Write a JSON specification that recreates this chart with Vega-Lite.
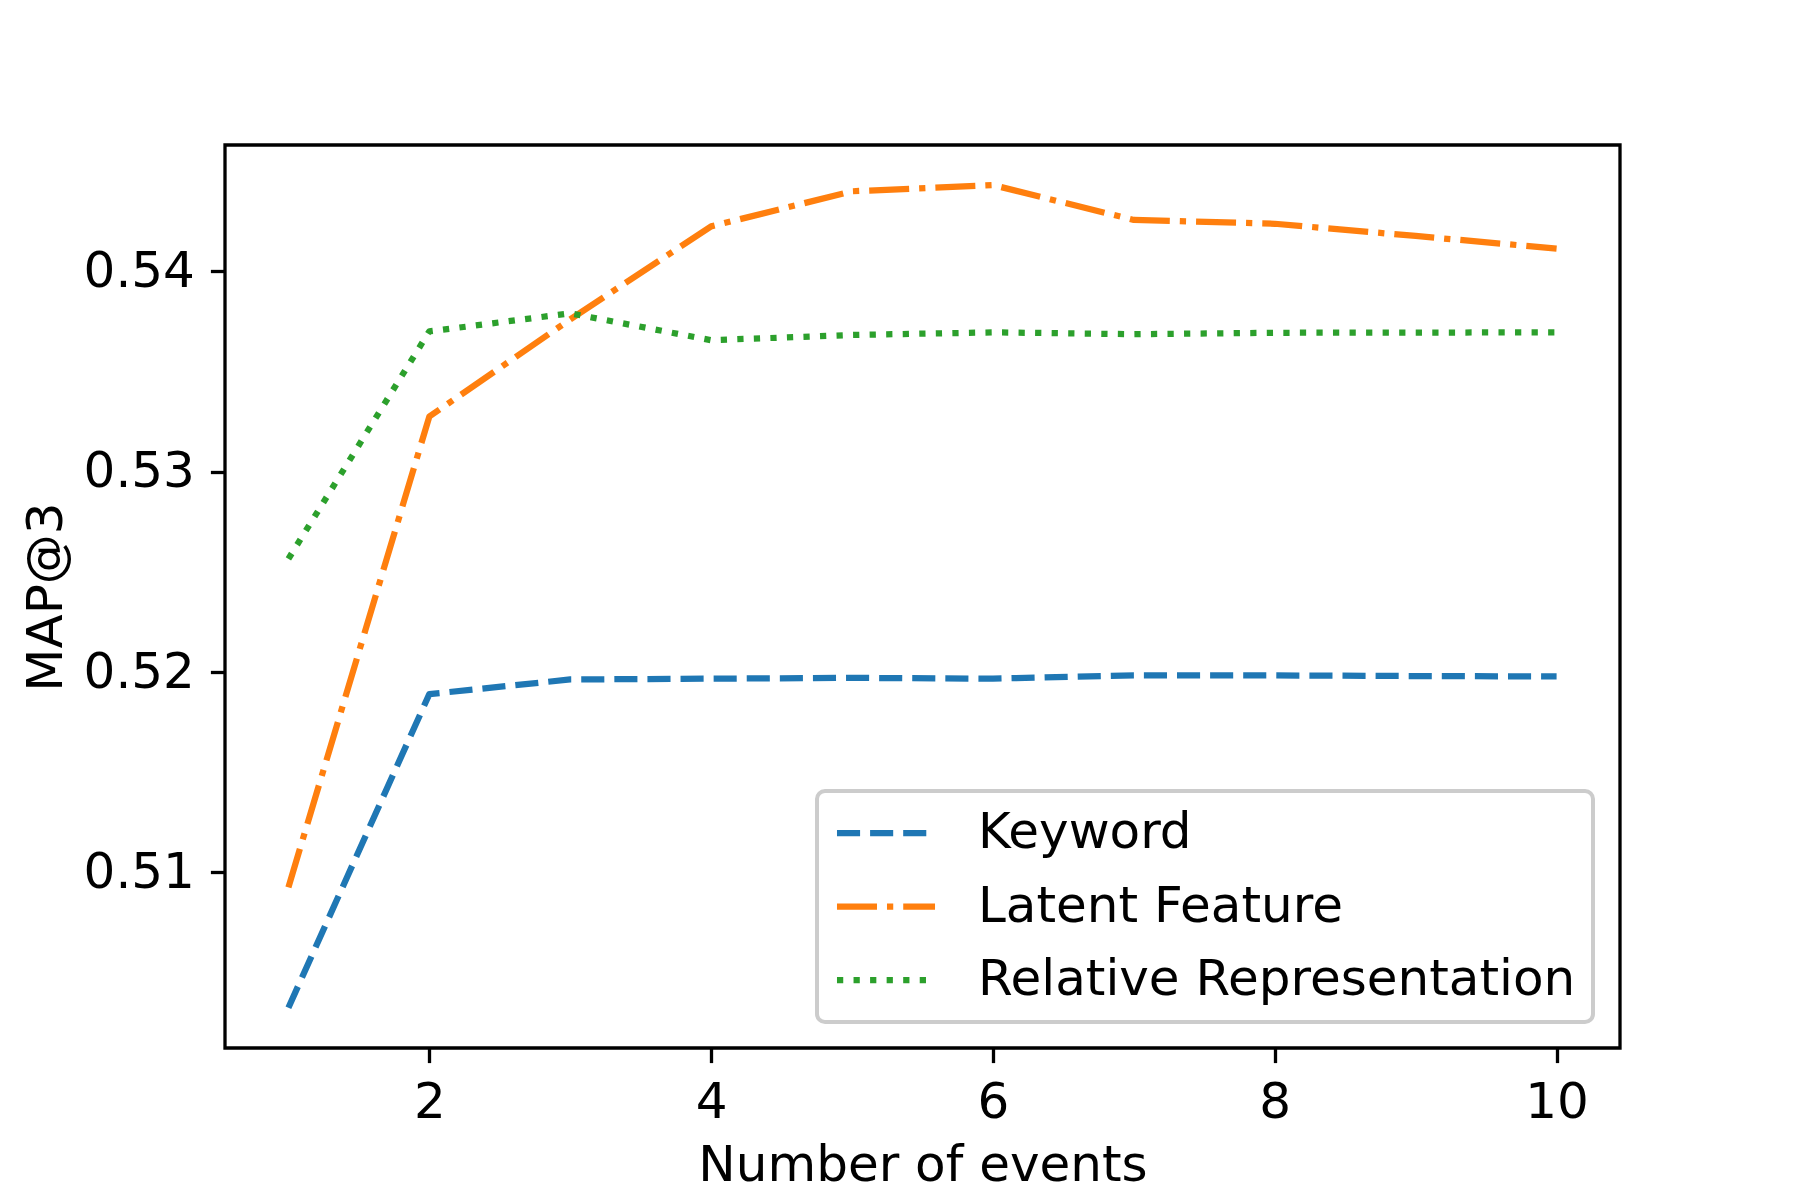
{
  "$schema": "https://vega.github.io/schema/vega-lite/v6.json",
  "width": 1395,
  "height": 903,
  "autosize": {"type": "none"},
  "padding": {"left": 225, "top": 145, "right": 180, "bottom": 152},
  "background": "white",
  "data": {
    "values": [
      {"events": 1, "method": "Keyword", "map": 0.50325},
      {"events": 2, "method": "Keyword", "map": 0.5189},
      {"events": 3, "method": "Keyword", "map": 0.51963},
      {"events": 4, "method": "Keyword", "map": 0.51967},
      {"events": 5, "method": "Keyword", "map": 0.51971},
      {"events": 6, "method": "Keyword", "map": 0.51967},
      {"events": 7, "method": "Keyword", "map": 0.51983},
      {"events": 8, "method": "Keyword", "map": 0.51983},
      {"events": 9, "method": "Keyword", "map": 0.5198},
      {"events": 10, "method": "Keyword", "map": 0.51978},
      {"events": 1, "method": "Latent Feature", "map": 0.50926},
      {"events": 2, "method": "Latent Feature", "map": 0.53275},
      {"events": 3, "method": "Latent Feature", "map": 0.5376},
      {"events": 4, "method": "Latent Feature", "map": 0.54224},
      {"events": 5, "method": "Latent Feature", "map": 0.54399},
      {"events": 6, "method": "Latent Feature", "map": 0.5443},
      {"events": 7, "method": "Latent Feature", "map": 0.54256},
      {"events": 8, "method": "Latent Feature", "map": 0.54237},
      {"events": 9, "method": "Latent Feature", "map": 0.54176},
      {"events": 10, "method": "Latent Feature", "map": 0.54113},
      {"events": 1, "method": "Relative Representation", "map": 0.52565},
      {"events": 2, "method": "Relative Representation", "map": 0.537},
      {"events": 3, "method": "Relative Representation", "map": 0.5379},
      {"events": 4, "method": "Relative Representation", "map": 0.53656},
      {"events": 5, "method": "Relative Representation", "map": 0.53682},
      {"events": 6, "method": "Relative Representation", "map": 0.53695},
      {"events": 7, "method": "Relative Representation", "map": 0.53686},
      {"events": 8, "method": "Relative Representation", "map": 0.53693},
      {"events": 9, "method": "Relative Representation", "map": 0.53694},
      {"events": 10, "method": "Relative Representation", "map": 0.53695}
    ]
  },
  "mark": {"type": "line", "strokeWidth": 6.25, "strokeCap": "butt", "strokeJoin": "round"},
  "encoding": {
    "x": {
      "field": "events",
      "type": "quantitative",
      "scale": {"domain": [0.55, 10.45], "nice": false, "zero": false},
      "axis": {"values": [2, 4, 6, 8, 10], "format": "d", "title": "Number of events", "labelPadding": 15, "titlePadding": 13}
    },
    "y": {
      "field": "map",
      "type": "quantitative",
      "scale": {"domain": [0.50124, 0.5463], "nice": false, "zero": false},
      "axis": {"values": [0.51, 0.52, 0.53, 0.54], "format": ".2f", "title": "MAP@3", "labelPadding": 16, "titlePadding": 12}
    },
    "color": {
      "field": "method",
      "type": "nominal",
      "scale": {"domain": ["Keyword", "Latent Feature", "Relative Representation"], "range": ["#1f77b4", "#ff7f0e", "#2ca02c"]},
      "legend": {"orient": "none", "legendX": 592, "legendY": 646}
    },
    "strokeDash": {
      "field": "method",
      "type": "nominal",
      "scale": {"domain": ["Keyword", "Latent Feature", "Relative Representation"], "range": [[23.1, 10], [40, 10, 6.25, 10], [6.25, 10.3]]},
      "legend": {"orient": "none", "legendX": 592, "legendY": 646}
    }
  },
  "config": {
    "font": "DejaVu Sans",
    "view": {"stroke": "black", "strokeWidth": 3.3},
    "axis": {
      "domain": false,
      "grid": false,
      "tickColor": "black",
      "tickWidth": 3.3,
      "tickSize": 14.6,
      "labelFont": "DejaVu Sans",
      "labelFontSize": 50,
      "labelColor": "black",
      "labelOverlap": false,
      "labelFlush": false,
      "titleFont": "DejaVu Sans",
      "titleFontSize": 50,
      "titleFontWeight": "normal",
      "titleColor": "black"
    },
    "legend": {
      "title": null,
      "padding": 17,
      "strokeColor": "#cccccc",
      "strokeWidth": 4,
      "cornerRadius": 8,
      "fillColor": "white",
      "symbolType": "M-1.01,0H3.488",
      "symbolSize": 1900,
      "symbolStrokeWidth": 6.25,
      "labelFont": "DejaVu Sans",
      "labelFontSize": 50,
      "labelColor": "black",
      "labelOffset": 94,
      "labelLimit": 0,
      "rowPadding": 23.5
    }
  }
}
